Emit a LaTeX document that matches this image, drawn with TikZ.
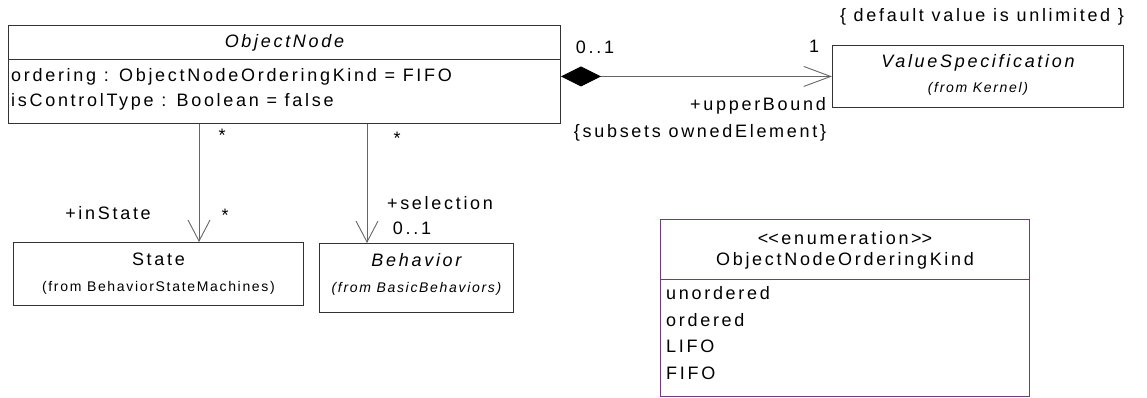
\documentclass[tikz,border=0pt]{standalone}
\usepackage{fontspec}
\setmainfont{Liberation Sans}[LetterSpace=15]
\newfontfamily\origenfont{Liberation Sans}[LetterSpace=12]
\usetikzlibrary{arrows.meta}
\definecolor{morado}{RGB}{110,60,120}

\begin{document}
\begin{tikzpicture}[x=1pt,y=-1pt]
  % Estilos
  \tikzset{
    clase/.style={draw=black!80, line width=0.9pt, anchor=north west, inner sep=0pt},
    enumcaja/.style={draw=morado, line width=1pt, anchor=north west, inner sep=0pt},
    texto/.style={font=\fontsize{18}{21}\selectfont, inner sep=0pt},
    titulo/.style={font=\fontsize{18}{21}\selectfont\itshape, inner sep=0pt},
    origen/.style={font=\origenfont\fontsize{14}{16}\selectfont, inner sep=0pt},
    origenit/.style={font=\origenfont\fontsize{14}{16}\selectfont\itshape, inner sep=0pt},
    asoc/.style={draw=black!60, line width=0.9pt},
    nav/.style={asoc, -{Straight Barb[length=21pt,width=22pt]}},
    comp/.style={asoc, {Diamond[length=40pt,width=20pt,fill=black,color=black]}-{Straight Barb[length=27pt,width=20pt]}}
  }
  \useasboundingbox (0,0) rectangle (1147,398);

  % Clase ObjectNode
  \node[clase, minimum width=552pt, minimum height=98pt] (objnode) at (8,25) {};
  \draw[clase] ([yshift=-34pt]objnode.north west) -- ([yshift=-34pt]objnode.north east);
  \node[titulo] (tobj) at (objnode.north |- 0,43) {ObjectNode};
  \node[texto, anchor=west] (attr1) at (11,77) {ordering : ObjectNodeOrderingKind = FIFO};
  \node[texto, anchor=west] (attr2) at (11,102) {isControlType : Boolean = false};

  % Clase ValueSpecification
  \node[clase, minimum width=291pt, minimum height=62pt] (valspec) at (832,45) {};
  \node[titulo] (tval) at (valspec.north |- 0,63) {ValueSpecification};
  \node[origenit] (oval) at (valspec.north |- 0,89) {(from Kernel)};
  \node[texto] (nota) at (982,17) {\{ default value is unlimited \}};

  % Clases State y Behavior
  \node[clase, minimum width=290pt, minimum height=63pt] (state) at (13,242) {};
  \node[texto] (tstate) at (state.north |- 0,259) {State};
  \node[origen] (ostate) at (state.north |- 0,288) {(from BehaviorStateMachines)};
  \node[clase, minimum width=194pt, minimum height=69pt] (behav) at (319,243) {};
  \node[titulo] (tbehav) at (behav.north |- 0,260) {Behavior};
  \node[origenit] (obehav) at (behav.north |- 0,289) {(from BasicBehaviors)};

  % Enumeracion
  \node[enumcaja, minimum width=369pt, minimum height=177pt] (enumk) at (660,219) {};
  \draw[enumcaja] ([yshift=-60pt]enumk.north west) -- ([yshift=-60pt]enumk.north east);
  \node[texto] (estereo) at (enumk.north |- 0,238) {<\kern0pt<enumeration>\kern0pt>};
  \node[texto] (tenum) at (enumk.north |- 0,261) {ObjectNodeOrderingKind};
  \node[texto, anchor=west] (lit1) at (666,293) {unordered};
  \node[texto, anchor=west] (lit2) at (666,320) {ordered};
  \node[texto, anchor=west] (lit3) at (666,346) {LIFO};
  \node[texto, anchor=west] (lit4) at (666,373) {FIFO};

  % Asociaciones
  \coordinate (x1) at (199,0);
  \coordinate (x2) at (367,0);
  \draw[nav] (objnode.south -| x1) -- (state.north -| x1);
  \draw[nav] (objnode.south -| x2) -- (behav.north -| x2);
  \draw[comp] (objnode.east |- valspec.west) -- (valspec.west);

  % Extremos de asociacion
  \node[texto] (m1) at (222,135) {*};
  \node[texto] (m2) at (225,215) {*};
  \node[texto] (rol1) at (108,213) {+inState};
  \node[texto] (m3) at (397,138) {*};
  \node[texto] (rol2) at (440,203) {+selection};
  \node[texto] (m4) at (412,228) {0..1};
  \node[texto] (m5) at (595,47) {0..1};
  \node[texto] (m6) at (814,46) {1};
  \node[texto, anchor=east] (rol3) at (826,106) {+upperBound};
  \node[texto] (rest) at (700,133) {\{subsets ownedElement\}};
\end{tikzpicture}
\end{document}
